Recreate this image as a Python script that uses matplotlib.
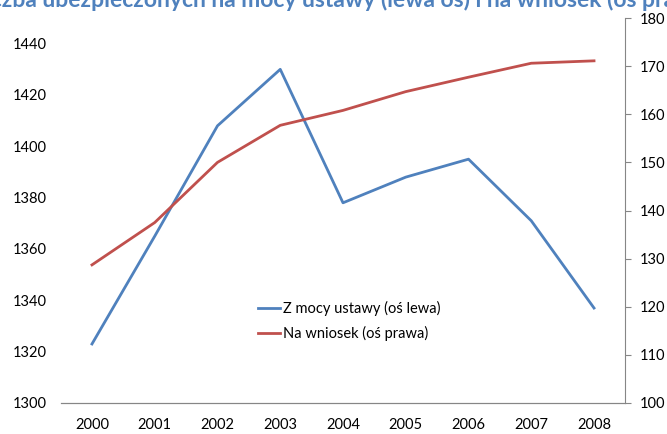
import matplotlib.pyplot as plt

lata = ['2000', '2001', '2002', '2003', '2004', '2005', '2006', '2007', '2008']
z_mocy_ustawy = [1323, 1365, 1408, 1430, 1378, 1388, 1395, 1371, 1337]
na_wniosek = [128.7, 137.5, 150.0, 157.7, 160.8, 164.7, 167.7, 170.6, 171.1]

lewe_ticks = [1300, 1320, 1340, 1360, 1380, 1400, 1420, 1440]
prawe_ticks = [100, 110, 120, 130, 140, 150, 160, 170, 180]

tytul = 'Liczba ubezpieczonych na mocy ustawy (lewa oś) i na wniosek (oś prawa)'

plt.rcParams['font.family'] = ['Lato', 'DejaVu Sans']

fig = plt.figure(figsize=(6.67, 4.34), dpi=100)
W, H = 667, 434
ax = fig.add_axes([60.6 / W, (H - 403) / H, (625.4 - 60.6) / W, (403 - 18) / H])
ax2 = ax.twinx()

x = range(len(lata))
l1, = ax.plot(x, z_mocy_ustawy, color='#4F81BD', lw=2, label='Z mocy ustawy (oś lewa)')
l2, = ax2.plot(x, na_wniosek, color='#C0504D', lw=2, label='Na wniosek (oś prawa)')

ax.set_xlim(-0.5, len(lata) - 0.5)
ax.set_ylim(1300, 1450)
ax2.set_ylim(100, 180)
ax.set_xticks(list(x))
ax.set_xticklabels(lata)
ax.set_yticks(lewe_ticks)
ax2.set_yticks(prawe_ticks)

gray = '#868686'
for a in (ax, ax2):
    for s in ('top', 'left', 'right'):
        a.spines[s].set_visible(False)
    a.spines['bottom'].set_color(gray)
ax2.spines['right'].set_visible(True)
ax2.spines['right'].set_color(gray)

ax.tick_params(axis='x', length=0, pad=11, labelsize=10.5)
ax.tick_params(axis='y', length=0, pad=10, labelsize=10.5)
ax2.tick_params(axis='y', length=4, color=gray, pad=6, labelsize=10.5)

ax.legend([l1, l2], [l1.get_label(), l2.get_label()], frameon=False,
          loc='upper left', bbox_to_anchor=((245 - 60.6) / (625.4 - 60.6), (403 - 288) / 385),
          fontsize=10.5, handlelength=1.5, handletextpad=0.2, labelspacing=0.7)

fig.text(342 / W, 1 - 7 / H, tytul, ha='center', va='baseline',
         fontsize=16.5, fontweight='bold', color='#4F81BD')

fig.savefig('out.png', dpi=100)
